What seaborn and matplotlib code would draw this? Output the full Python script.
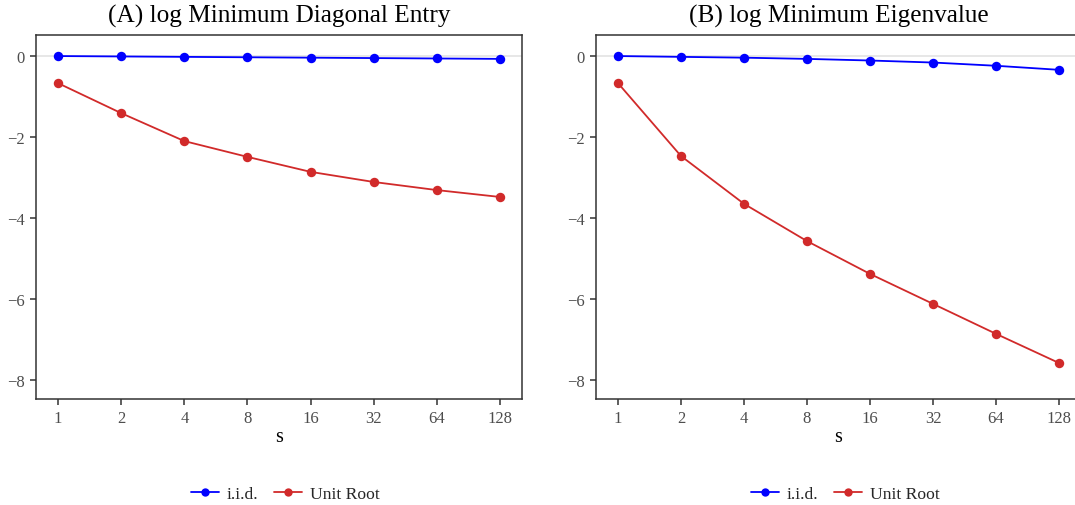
import numpy as np
import pandas as pd
import matplotlib
matplotlib.use("Agg")
import matplotlib.pyplot as plt
import seaborn as sns
from matplotlib.lines import Line2D

# data
s_values = [1, 2, 4, 8, 16, 32, 64, 128]
series_names = ["i.i.d.", "Unit Root"]

diag_iid = [0.00, -0.01, -0.02, -0.03, -0.04, -0.05, -0.06, -0.07]
diag_unit = [-0.67, -1.41, -2.10, -2.49, -2.86, -3.11, -3.31, -3.48]

eig_iid = [0.00, -0.02, -0.04, -0.07, -0.11, -0.16, -0.24, -0.34]
eig_unit = [-0.67, -2.47, -3.65, -4.57, -5.38, -6.12, -6.86, -7.58]

panel_titles = ["(A) log Minimum Diagonal Entry", "(B) log Minimum Eigenvalue"]
y_ticks = [0, -2, -4, -6, -8]

colors = {"i.i.d.": "#0000ff", "Unit Root": "#d12a2a"}


def make_frame(iid, unit):
    rows = []
    for name, vals in zip(series_names, [iid, unit]):
        for s, v in zip(s_values, vals):
            rows.append({"s": s, "pos": np.log2(s), "value": v, "series": name})
    return pd.DataFrame(rows)


sns.set_theme(style="white")
plt.rcParams["font.family"] = ["Liberation Serif", "DejaVu Serif"]
plt.rcParams["axes.unicode_minus"] = True

fig = plt.figure(figsize=(10.75, 5.06), dpi=100)
W, H = 1075, 506
axes_px = [(36, 36, 486, 364), (596, 36, 485, 364)]

frames = [make_frame(diag_iid, diag_unit), make_frame(eig_iid, eig_unit)]
legend_x = [285, 845]

for i, (df, (x0, y0, w, h)) in enumerate(zip(frames, axes_px)):
    ax = fig.add_axes([x0 / W, 1 - (y0 + h) / H, w / W, h / H])
    ax.axhline(0, color="#e3e3e3", lw=1.2, zorder=0)
    sns.lineplot(data=df, x="pos", y="value", hue="series", palette=colors,
                 marker="o", markersize=6.8, markeredgewidth=0, linewidth=1.3,
                 legend=False, ax=ax)
    ax.set_xlim(-0.35, 7.35)
    ax.set_ylim(-8.47, 0.52)
    ax.set_xticks(np.log2(s_values))
    ax.set_xticklabels([str(s) for s in s_values])
    ax.set_yticks(y_ticks)
    ax.set_yticklabels(["0" if t == 0 else "\u2212" + str(abs(t)) for t in y_ticks])
    ax.tick_params(axis="both", which="major", length=4, width=1.1, color="#333333",
                   labelcolor="#4d4d4d", labelsize=12, direction="out",
                   bottom=True, left=True, pad=4)
    for sp in ax.spines.values():
        sp.set_color("#333333")
        sp.set_linewidth(1.1)
    ax.set_xlabel("s", fontsize=14.5, color="black", labelpad=1)
    ax.set_ylabel("")
    ax.set_title(panel_titles[i], fontsize=18.2, color="black", pad=10)
    ax.grid(False)

    handles = [Line2D([0], [0], color=colors[n], marker="o", markersize=6,
                      markeredgewidth=0, linewidth=1.3) for n in series_names]
    fig.legend(handles, series_names, loc="center",
               bbox_to_anchor=(legend_x[i] / W, 1 - 495 / H), ncol=2,
               frameon=False, fontsize=12.6, handlelength=1.6, columnspacing=0.9,
               handletextpad=0.45)

fig.savefig("out.png", dpi=100)
plt.close(fig)
